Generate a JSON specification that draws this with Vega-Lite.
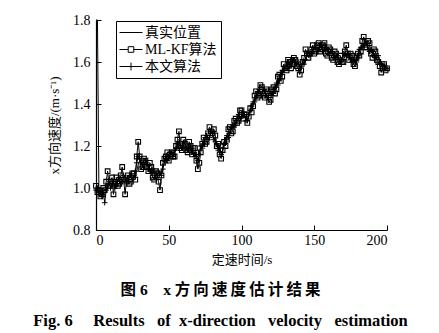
{
  "$schema": "https://vega.github.io/schema/vega-lite/v6.json",
  "width": 291,
  "height": 210,
  "autosize": "none",
  "padding": {"left": 96, "top": 20, "right": 52, "bottom": 103},
  "background": "white",
  "config": {
    "view": {"stroke": null},
    "font": "Liberation Serif, Noto Sans CJK SC",
    "axis": {
      "domainColor": "black", "domainWidth": 1.2, "tickColor": "black", "tickSize": -5,
      "labelFont": "Liberation Serif", "labelFontSize": 14, "labelColor": "black",
      "titleFont": "Liberation Serif, Noto Sans CJK SC", "titleFontSize": 13, "titleFontWeight": "normal", "titleColor": "black",
      "grid": false
    }
  },
  "title": {
    "text": "图\u00a06\u00a0\u00a0\u00a0\u00a0x\u00a0方\u2009向\u2009速\u2009度\u2009估\u2009计\u2009结\u2009果",
    "subtitle": "Fig.\u00a06\u00a0\u00a0\u00a0\u00a0\u00a0Results\u00a0\u00a0\u00a0of\u00a0\u00a0x-direction\u00a0\u00a0\u00a0velocity\u00a0\u00a0\u00a0estimation",
    "orient": "bottom", "anchor": "middle", "dx": -21, "offset": 17,
    "font": "Liberation Serif, Noto Sans CJK SC", "fontSize": 15.5, "fontWeight": "bold", "color": "black",
    "subtitleFont": "Liberation Serif", "subtitleFontSize": 16.5, "subtitleFontWeight": "bold", "subtitleColor": "black", "subtitlePadding": 14
  },
  "data": {"values": [
    {"t":0,"真实位置":1.80,"ML-KF算法":1.01,"本文算法":0.99},
    {"t":1,"真实位置":1.80,"ML-KF算法":0.98,"本文算法":1.00},
    {"t":2,"真实位置":0.99,"ML-KF算法":0.99,"本文算法":0.97},
    {"t":3,"真实位置":0.98,"ML-KF算法":0.96,"本文算法":0.98},
    {"t":4,"真实位置":0.97,"ML-KF算法":0.97,"本文算法":0.96},
    {"t":5,"真实位置":0.97,"ML-KF算法":1.00,"本文算法":0.98},
    {"t":6,"真实位置":0.97,"ML-KF算法":0.99,"本文算法":0.93},
    {"t":7,"真实位置":0.98,"ML-KF算法":1.03,"本文算法":0.99},
    {"t":8,"真实位置":1.00,"ML-KF算法":1.08,"本文算法":1.01},
    {"t":9,"真实位置":1.01,"ML-KF算法":1.01,"本文算法":1.03},
    {"t":10,"真实位置":1.02,"ML-KF算法":1.03,"本文算法":1.00},
    {"t":11,"真实位置":1.02,"ML-KF算法":1.05,"本文算法":1.02},
    {"t":12,"真实位置":1.01,"ML-KF算法":0.97,"本文算法":1.03},
    {"t":13,"真实位置":1.02,"ML-KF算法":1.02,"本文算法":1.00},
    {"t":14,"真实位置":1.03,"ML-KF算法":1.05,"本文算法":1.01},
    {"t":15,"真实位置":1.03,"ML-KF算法":1.01,"本文算法":1.04},
    {"t":16,"真实位置":1.04,"ML-KF算法":1.02,"本文算法":1.05},
    {"t":17,"真实位置":1.04,"ML-KF算法":1.06,"本文算法":1.02},
    {"t":18,"真实位置":1.04,"ML-KF算法":1.10,"本文算法":1.03},
    {"t":19,"真实位置":1.03,"ML-KF算法":1.04,"本文算法":1.06},
    {"t":20,"真实位置":1.03,"ML-KF算法":0.97,"本文算法":1.05},
    {"t":21,"真实位置":1.04,"ML-KF算法":1.04,"本文算法":1.02},
    {"t":22,"真实位置":1.05,"ML-KF算法":1.06,"本文算法":1.04},
    {"t":23,"真实位置":1.05,"ML-KF算法":1.02,"本文算法":1.06},
    {"t":24,"真实位置":1.05,"ML-KF算法":1.03,"本文算法":1.06},
    {"t":25,"真实位置":1.05,"ML-KF算法":1.07,"本文算法":1.04},
    {"t":26,"真实位置":1.06,"ML-KF算法":1.07,"本文算法":1.05},
    {"t":27,"真实位置":1.07,"ML-KF算法":1.04,"本文算法":1.08},
    {"t":28,"真实位置":1.08,"ML-KF算法":1.15,"本文算法":1.12},
    {"t":29,"真实位置":1.11,"ML-KF算法":1.22,"本文算法":1.15},
    {"t":30,"真实位置":1.13,"ML-KF算法":1.15,"本文算法":1.14},
    {"t":31,"真实位置":1.12,"ML-KF算法":1.09,"本文算法":1.12},
    {"t":32,"真实位置":1.12,"ML-KF算法":1.10,"本文算法":1.11},
    {"t":33,"真实位置":1.12,"ML-KF算法":1.14,"本文算法":1.10},
    {"t":34,"真实位置":1.12,"ML-KF算法":1.13,"本文算法":1.13},
    {"t":35,"真实位置":1.11,"ML-KF算法":1.10,"本文算法":1.12},
    {"t":36,"真实位置":1.10,"ML-KF算法":1.08,"本文算法":1.09},
    {"t":37,"真实位置":1.09,"ML-KF算法":1.12,"本文算法":1.08},
    {"t":38,"真实位置":1.08,"ML-KF算法":1.10,"本文算法":1.07},
    {"t":39,"真实位置":1.07,"ML-KF算法":1.05,"本文算法":1.09},
    {"t":40,"真实位置":1.07,"ML-KF算法":1.04,"本文算法":1.08},
    {"t":41,"真实位置":1.07,"ML-KF算法":1.08,"本文算法":1.05},
    {"t":42,"真实位置":1.06,"ML-KF算法":1.07,"本文算法":1.05},
    {"t":43,"真实位置":1.06,"ML-KF算法":1.03,"本文算法":1.08},
    {"t":44,"真实位置":1.06,"ML-KF算法":0.99,"本文算法":1.07},
    {"t":45,"真实位置":1.08,"ML-KF算法":1.06,"本文算法":1.06},
    {"t":46,"真实位置":1.10,"ML-KF算法":1.12,"本文算法":1.09},
    {"t":47,"真实位置":1.12,"ML-KF算法":1.14,"本文算法":1.13},
    {"t":48,"真实位置":1.14,"ML-KF算法":1.15,"本文算法":1.15},
    {"t":49,"真实位置":1.15,"ML-KF算法":1.17,"本文算法":1.13},
    {"t":50,"真实位置":1.15,"ML-KF算法":1.13,"本文算法":1.14},
    {"t":51,"真实位置":1.16,"ML-KF算法":1.16,"本文算法":1.17},
    {"t":52,"真实位置":1.16,"ML-KF算法":1.17,"本文算法":1.17},
    {"t":53,"真实位置":1.17,"ML-KF算法":1.15,"本文算法":1.15},
    {"t":54,"真实位置":1.17,"ML-KF算法":1.15,"本文算法":1.18},
    {"t":55,"真实位置":1.18,"ML-KF算法":1.20,"本文算法":1.19},
    {"t":56,"真实位置":1.20,"ML-KF算法":1.23,"本文算法":1.21},
    {"t":57,"真实位置":1.21,"ML-KF算法":1.27,"本文算法":1.22},
    {"t":58,"真实位置":1.21,"ML-KF算法":1.19,"本文算法":1.20},
    {"t":59,"真实位置":1.20,"ML-KF算法":1.18,"本文算法":1.19},
    {"t":60,"真实位置":1.20,"ML-KF算法":1.23,"本文算法":1.21},
    {"t":61,"真实位置":1.20,"ML-KF算法":1.21,"本文算法":1.22},
    {"t":62,"真实位置":1.20,"ML-KF算法":1.18,"本文算法":1.19},
    {"t":63,"真实位置":1.19,"ML-KF算法":1.17,"本文算法":1.18},
    {"t":64,"真实位置":1.19,"ML-KF算法":1.22,"本文算法":1.20},
    {"t":65,"真实位置":1.18,"ML-KF算法":1.20,"本文算法":1.19},
    {"t":66,"真实位置":1.18,"ML-KF算法":1.16,"本文算法":1.17},
    {"t":67,"真实位置":1.17,"ML-KF算法":1.19,"本文算法":1.16},
    {"t":68,"真实位置":1.16,"ML-KF算法":1.19,"本文算法":1.15},
    {"t":69,"真实位置":1.15,"ML-KF算法":1.13,"本文算法":1.16},
    {"t":70,"真实位置":1.15,"ML-KF算法":1.09,"本文算法":1.13},
    {"t":71,"真实位置":1.17,"ML-KF算法":1.12,"本文算法":1.16},
    {"t":72,"真实位置":1.19,"ML-KF算法":1.17,"本文算法":1.20},
    {"t":73,"真实位置":1.21,"ML-KF算法":1.21,"本文算法":1.19},
    {"t":74,"真实位置":1.22,"ML-KF算法":1.24,"本文算法":1.21},
    {"t":75,"真实位置":1.23,"ML-KF算法":1.21,"本文算法":1.24},
    {"t":76,"真实位置":1.24,"ML-KF算法":1.22,"本文算法":1.25},
    {"t":77,"真实位置":1.25,"ML-KF算法":1.26,"本文算法":1.23},
    {"t":78,"真实位置":1.25,"ML-KF算法":1.29,"本文算法":1.24},
    {"t":79,"真实位置":1.25,"ML-KF算法":1.27,"本文算法":1.27},
    {"t":80,"真实位置":1.25,"ML-KF算法":1.26,"本文算法":1.26},
    {"t":81,"真实位置":1.24,"ML-KF算法":1.28,"本文算法":1.23},
    {"t":82,"真实位置":1.23,"ML-KF算法":1.25,"本文算法":1.22},
    {"t":83,"真实位置":1.21,"ML-KF算法":1.20,"本文算法":1.21},
    {"t":84,"真实位置":1.19,"ML-KF算法":1.21,"本文算法":1.18},
    {"t":85,"真实位置":1.18,"ML-KF算法":1.16,"本文算法":1.19},
    {"t":86,"真实位置":1.17,"ML-KF算法":1.14,"本文算法":1.16},
    {"t":87,"真实位置":1.18,"ML-KF算法":1.18,"本文算法":1.17},
    {"t":88,"真实位置":1.20,"ML-KF算法":1.22,"本文算法":1.21},
    {"t":89,"真实位置":1.22,"ML-KF算法":1.20,"本文算法":1.23},
    {"t":90,"真实位置":1.24,"ML-KF算法":1.23,"本文算法":1.25},
    {"t":91,"真实位置":1.26,"ML-KF算法":1.28,"本文算法":1.24},
    {"t":92,"真实位置":1.27,"ML-KF算法":1.29,"本文算法":1.26},
    {"t":93,"真实位置":1.28,"ML-KF算法":1.26,"本文算法":1.29},
    {"t":94,"真实位置":1.29,"ML-KF算法":1.27,"本文算法":1.30},
    {"t":95,"真实位置":1.30,"ML-KF算法":1.32,"本文算法":1.29},
    {"t":96,"真实位置":1.31,"ML-KF算法":1.33,"本文算法":1.30},
    {"t":97,"真实位置":1.33,"ML-KF算法":1.31,"本文算法":1.34},
    {"t":98,"真实位置":1.34,"ML-KF算法":1.32,"本文算法":1.35},
    {"t":99,"真实位置":1.35,"ML-KF算法":1.37,"本文算法":1.33},
    {"t":100,"真实位置":1.35,"ML-KF算法":1.37,"本文算法":1.34},
    {"t":101,"真实位置":1.35,"ML-KF算法":1.33,"本文算法":1.36},
    {"t":102,"真实位置":1.34,"ML-KF算法":1.35,"本文算法":1.35},
    {"t":103,"真实位置":1.33,"ML-KF算法":1.35,"本文算法":1.32},
    {"t":104,"真实位置":1.33,"ML-KF算法":1.31,"本文算法":1.32},
    {"t":105,"真实位置":1.34,"ML-KF算法":1.34,"本文算法":1.35},
    {"t":106,"真实位置":1.36,"ML-KF算法":1.38,"本文算法":1.37},
    {"t":107,"真实位置":1.38,"ML-KF算法":1.36,"本文算法":1.39},
    {"t":108,"真实位置":1.40,"ML-KF算法":1.39,"本文算法":1.41},
    {"t":109,"真实位置":1.42,"ML-KF算法":1.44,"本文算法":1.41},
    {"t":110,"真实位置":1.44,"ML-KF算法":1.46,"本文算法":1.43},
    {"t":111,"真实位置":1.45,"ML-KF算法":1.43,"本文算法":1.46},
    {"t":112,"真实位置":1.46,"ML-KF算法":1.44,"本文算法":1.47},
    {"t":113,"真实位置":1.46,"ML-KF算法":1.49,"本文算法":1.45},
    {"t":114,"真实位置":1.46,"ML-KF算法":1.48,"本文算法":1.45},
    {"t":115,"真实位置":1.45,"ML-KF算法":1.44,"本文算法":1.47},
    {"t":116,"真实位置":1.45,"ML-KF算法":1.43,"本文算法":1.46},
    {"t":117,"真实位置":1.44,"ML-KF算法":1.47,"本文算法":1.44},
    {"t":118,"真实位置":1.44,"ML-KF算法":1.46,"本文算法":1.43},
    {"t":119,"真实位置":1.44,"ML-KF算法":1.41,"本文算法":1.45},
    {"t":120,"真实位置":1.44,"ML-KF算法":1.42,"本文算法":1.45},
    {"t":121,"真实位置":1.45,"ML-KF算法":1.47,"本文算法":1.44},
    {"t":122,"真实位置":1.46,"ML-KF算法":1.48,"本文算法":1.45},
    {"t":123,"真实位置":1.47,"ML-KF算法":1.45,"本文算法":1.48},
    {"t":124,"真实位置":1.49,"ML-KF算法":1.47,"本文算法":1.50},
    {"t":125,"真实位置":1.51,"ML-KF算法":1.53,"本文算法":1.49},
    {"t":126,"真实位置":1.52,"ML-KF算法":1.54,"本文算法":1.51},
    {"t":127,"真实位置":1.54,"ML-KF算法":1.51,"本文算法":1.55},
    {"t":128,"真实位置":1.55,"ML-KF算法":1.53,"本文算法":1.56},
    {"t":129,"真实位置":1.57,"ML-KF算法":1.59,"本文算法":1.56},
    {"t":130,"真实位置":1.58,"ML-KF算法":1.57,"本文算法":1.57},
    {"t":131,"真实位置":1.58,"ML-KF算法":1.56,"本文算法":1.59},
    {"t":132,"真实位置":1.59,"ML-KF算法":1.61,"本文算法":1.60},
    {"t":133,"真实位置":1.59,"ML-KF算法":1.60,"本文算法":1.58},
    {"t":134,"真实位置":1.59,"ML-KF算法":1.57,"本文算法":1.58},
    {"t":135,"真实位置":1.60,"ML-KF算法":1.59,"本文算法":1.61},
    {"t":136,"真实位置":1.60,"ML-KF算法":1.62,"本文算法":1.61},
    {"t":137,"真实位置":1.60,"ML-KF算法":1.61,"本文算法":1.59},
    {"t":138,"真实位置":1.60,"ML-KF算法":1.58,"本文算法":1.59},
    {"t":139,"真实位置":1.59,"ML-KF算法":1.57,"本文算法":1.60},
    {"t":140,"真实位置":1.58,"ML-KF算法":1.54,"本文算法":1.57},
    {"t":141,"真实位置":1.58,"ML-KF算法":1.56,"本文算法":1.58},
    {"t":142,"真实位置":1.59,"ML-KF算法":1.60,"本文算法":1.60},
    {"t":143,"真实位置":1.60,"ML-KF算法":1.62,"本文算法":1.59},
    {"t":144,"真实位置":1.62,"ML-KF算法":1.66,"本文算法":1.61},
    {"t":145,"真实位置":1.63,"ML-KF算法":1.64,"本文算法":1.64},
    {"t":146,"真实位置":1.64,"ML-KF算法":1.62,"本文算法":1.65},
    {"t":147,"真实位置":1.65,"ML-KF算法":1.64,"本文算法":1.63},
    {"t":148,"真实位置":1.65,"ML-KF算法":1.66,"本文算法":1.64},
    {"t":149,"真实位置":1.66,"ML-KF算法":1.68,"本文算法":1.66},
    {"t":150,"真实位置":1.66,"ML-KF算法":1.64,"本文算法":1.67},
    {"t":151,"真实位置":1.66,"ML-KF算法":1.65,"本文算法":1.67},
    {"t":152,"真实位置":1.66,"ML-KF算法":1.68,"本文算法":1.65},
    {"t":153,"真实位置":1.67,"ML-KF算法":1.69,"本文算法":1.66},
    {"t":154,"真实位置":1.67,"ML-KF算法":1.65,"本文算法":1.68},
    {"t":155,"真实位置":1.67,"ML-KF算法":1.66,"本文算法":1.68},
    {"t":156,"真实位置":1.66,"ML-KF算法":1.68,"本文算法":1.65},
    {"t":157,"真实位置":1.66,"ML-KF算法":1.69,"本文算法":1.66},
    {"t":158,"真实位置":1.66,"ML-KF算法":1.64,"本文算法":1.67},
    {"t":159,"真实位置":1.65,"ML-KF算法":1.63,"本文算法":1.66},
    {"t":160,"真实位置":1.65,"ML-KF算法":1.67,"本文算法":1.64},
    {"t":161,"真实位置":1.65,"ML-KF算法":1.66,"本文算法":1.65},
    {"t":162,"真实位置":1.64,"ML-KF算法":1.62,"本文算法":1.65},
    {"t":163,"真实位置":1.64,"ML-KF算法":1.61,"本文算法":1.63},
    {"t":164,"真实位置":1.63,"ML-KF算法":1.65,"本文算法":1.62},
    {"t":165,"真实位置":1.62,"ML-KF算法":1.64,"本文算法":1.63},
    {"t":166,"真实位置":1.62,"ML-KF算法":1.60,"本文算法":1.63},
    {"t":167,"真实位置":1.61,"ML-KF算法":1.59,"本文算法":1.61},
    {"t":168,"真实位置":1.61,"ML-KF算法":1.63,"本文算法":1.60},
    {"t":169,"真实位置":1.62,"ML-KF算法":1.60,"本文算法":1.61},
    {"t":170,"真实位置":1.63,"ML-KF算法":1.60,"本文算法":1.64},
    {"t":171,"真实位置":1.64,"ML-KF算法":1.65,"本文算法":1.63},
    {"t":172,"真实位置":1.64,"ML-KF算法":1.68,"本文算法":1.63},
    {"t":173,"真实位置":1.63,"ML-KF算法":1.64,"本文算法":1.64},
    {"t":174,"真实位置":1.62,"ML-KF算法":1.61,"本文算法":1.63},
    {"t":175,"真实位置":1.62,"ML-KF算法":1.64,"本文算法":1.61},
    {"t":176,"真实位置":1.61,"ML-KF算法":1.63,"本文算法":1.60},
    {"t":177,"真实位置":1.60,"ML-KF算法":1.59,"本文算法":1.61},
    {"t":178,"真实位置":1.60,"ML-KF算法":1.58,"本文算法":1.61},
    {"t":179,"真实位置":1.61,"ML-KF算法":1.62,"本文算法":1.60},
    {"t":180,"真实位置":1.63,"ML-KF算法":1.64,"本文算法":1.62},
    {"t":181,"真实位置":1.65,"ML-KF算法":1.63,"本文算法":1.66},
    {"t":182,"真实位置":1.66,"ML-KF算法":1.65,"本文算法":1.67},
    {"t":183,"真实位置":1.68,"ML-KF算法":1.70,"本文算法":1.67},
    {"t":184,"真实位置":1.69,"ML-KF算法":1.72,"本文算法":1.68},
    {"t":185,"真实位置":1.69,"ML-KF算法":1.67,"本文算法":1.70},
    {"t":186,"真实位置":1.68,"ML-KF算法":1.67,"本文算法":1.69},
    {"t":187,"真实位置":1.67,"ML-KF算法":1.70,"本文算法":1.66},
    {"t":188,"真实位置":1.66,"ML-KF算法":1.69,"本文算法":1.65},
    {"t":189,"真实位置":1.65,"ML-KF算法":1.64,"本文算法":1.66},
    {"t":190,"真实位置":1.64,"ML-KF算法":1.62,"本文算法":1.65},
    {"t":191,"真实位置":1.64,"ML-KF算法":1.66,"本文算法":1.63},
    {"t":192,"真实位置":1.63,"ML-KF算法":1.65,"本文算法":1.62},
    {"t":193,"真实位置":1.62,"ML-KF算法":1.61,"本文算法":1.63},
    {"t":194,"真实位置":1.62,"ML-KF算法":1.60,"本文算法":1.63},
    {"t":195,"真实位置":1.61,"ML-KF算法":1.58,"本文算法":1.60},
    {"t":196,"真实位置":1.60,"ML-KF算法":1.55,"本文算法":1.59},
    {"t":197,"真实位置":1.59,"ML-KF算法":1.57,"本文算法":1.58},
    {"t":198,"真实位置":1.58,"ML-KF算法":1.59,"本文算法":1.59},
    {"t":199,"真实位置":1.58,"ML-KF算法":1.56,"本文算法":1.57},
    {"t":200,"真实位置":1.58,"ML-KF算法":1.57,"本文算法":1.57}
  ]},
  "transform": [{"fold": ["真实位置", "ML-KF算法", "本文算法"], "as": ["series", "v"]}],
  "encoding": {
    "x": {"field": "t", "type": "quantitative", "scale": {"domain": [0, 200], "nice": false},
      "axis": {"values": [0, 50, 100, 150, 200], "title": "定速时间/s", "labelPadding": 8, "titlePadding": 6}},
    "y": {"field": "v", "type": "quantitative", "scale": {"domain": [0.8, 1.8], "nice": false},
      "axis": {"values": [0.8, 1.0, 1.2, 1.4, 1.6, 1.8], "format": ".1f", "title": "x方向速度/(m·s⁻¹)", "labelPadding": 11, "titlePadding": 11}}
  },
  "layer": [
    {"transform": [{"filter": "datum.series === '真实位置'"}],
     "mark": {"type": "line", "color": "black", "strokeWidth": 1}},
    {"transform": [{"filter": "datum.series === 'ML-KF算法'"}],
     "mark": {"type": "line", "color": "black", "strokeWidth": 1}},
    {"transform": [{"filter": "datum.series === 'ML-KF算法'"}],
     "mark": {"type": "point", "shape": "square", "filled": false, "color": "black", "strokeWidth": 1.1, "size": 22, "opacity": 1}},
    {"transform": [{"filter": "datum.series === '本文算法'"}],
     "mark": {"type": "line", "color": "black", "strokeWidth": 1}},
    {"transform": [{"filter": "datum.series === '本文算法'"}],
     "mark": {"type": "point", "shape": "M-1,0H1M0,-1V1", "filled": false, "color": "black", "strokeWidth": 1, "size": 30, "opacity": 1}},
    {"transform": [{"filter": "datum.t === 100"}],
     "mark": {"type": "point", "opacity": 0, "filled": false, "color": "black"},
     "encoding": {
       "shape": {"field": "series", "type": "nominal",
         "scale": {"domain": ["真实位置", "ML-KF算法", "本文算法"],
                   "range": ["M-1.14,0H2.14", "M-1.14,0H0.1M0.9,0H2.14M0.1,-0.4H0.9V0.4H0.1Z", "M-1.14,0H2.14M0.5,-0.55V0.55"]},
         "legend": {"title": null, "orient": "none", "legendX": 20, "legendY": 1,
           "strokeColor": "black", "padding": 4, "symbolSize": 196, "symbolOpacity": 1,
           "symbolStrokeColor": "black", "symbolFillColor": "white", "symbolStrokeWidth": 1,
           "labelFont": "Liberation Serif, Noto Sans CJK SC", "labelFontSize": 14, "labelColor": "black",
           "labelOffset": 10, "rowPadding": 2, "fillColor": "white"}}
     }}
  ]
}
